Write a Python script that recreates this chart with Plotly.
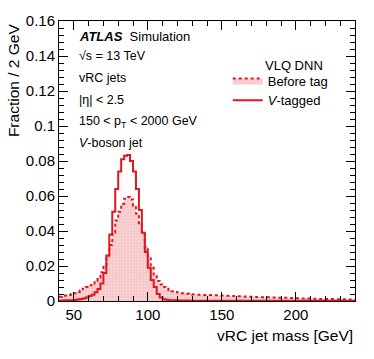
import plotly.graph_objects as go

# bin edges 40..240 GeV, 2 GeV wide
bin_lo = 40
bin_w = 2

before_tag = [
    0.0025, 0.0028, 0.0031, 0.0035, 0.0040,
    0.0045, 0.0052, 0.0060, 0.0070, 0.0080,
    0.0090, 0.0100, 0.0115, 0.0135, 0.0165,
    0.0205, 0.0260, 0.0320, 0.0390, 0.0460,
    0.0510, 0.0555, 0.0585, 0.0595, 0.0580,
    0.0545, 0.0500, 0.0445, 0.0380, 0.0310,
    0.0245, 0.0190, 0.0145, 0.0115, 0.0095,
    0.0080, 0.0070, 0.0062, 0.0056, 0.0051,
    0.0048, 0.0045, 0.0043, 0.0041, 0.0039,
    0.0037, 0.0036, 0.0036, 0.0035, 0.0035,
    0.0034, 0.0034, 0.0033, 0.0033, 0.0032,
    0.0031, 0.0030, 0.0030, 0.0029, 0.0028,
    0.0027, 0.0027, 0.0026, 0.0025, 0.0024,
    0.0024, 0.0023, 0.0023, 0.0022, 0.0022,
    0.0021, 0.0021, 0.0020, 0.0020, 0.0019,
    0.0019, 0.0018, 0.0018, 0.0017, 0.0017,
    0.0016, 0.0016, 0.0015, 0.0015, 0.0014,
    0.0013, 0.0013, 0.0012, 0.0012, 0.0012,
    0.0011, 0.0011, 0.0011, 0.0010, 0.0010,
    0.0010, 0.0010, 0.0009, 0.0009, 0.0009,
]

v_tagged = [
    0.0003, 0.0003, 0.0004, 0.0004, 0.0005,
    0.0006, 0.0008, 0.0011, 0.0015, 0.0020,
    0.0028, 0.0036, 0.0050, 0.0068, 0.0100,
    0.0160, 0.0260, 0.0380, 0.0510, 0.0640,
    0.0740, 0.0810, 0.0830, 0.0835, 0.0800,
    0.0740, 0.0640, 0.0520, 0.0390, 0.0280,
    0.0190, 0.0120, 0.0080, 0.0040, 0.0020,
    0.0010, 0.0007, 0.0005, 0.0004, 0.0004,
    0.0003, 0.0003, 0.0003, 0.0003, 0.0002,
    0.0002, 0.0002, 0.0002, 0.0002, 0.0002,
    0.0002, 0.0002, 0.0002, 0.0002, 0.0002,
    0.0002, 0.0002, 0.0002, 0.0002, 0.0002,
    0.0001, 0.0001, 0.0001, 0.0001, 0.0001,
    0.0001, 0.0001, 0.0001, 0.0001, 0.0001,
    0.0001, 0.0001, 0.0001, 0.0001, 0.0001,
    0.0001, 0.0001, 0.0001, 0.0001, 0.0001,
    0.0001, 0.0001, 0.0001, 0.0001, 0.0001,
    0.0001, 0.0001, 0.0001, 0.0001, 0.0001,
    0.0001, 0.0001, 0.0001, 0.0001, 0.0001,
    0.0001, 0.0001, 0.0001, 0.0001, 0.0001,
]

label_lines = [
    "√s = 13 TeV",
    "vRC jets",
    "|η| &lt; 2.5",
    "150 &lt; p<sub>T</sub> &lt; 2000 GeV",
    "<i>V</i>-boson jet",
]

RED = "rgb(222,24,30)"
FONT = "Liberation Sans, Arial, sans-serif"

edges = [bin_lo + bin_w * i for i in range(len(before_tag) + 1)]


def step_y(vals):
    # repeat last value so the 'hv' step closes at the last edge
    return vals + [vals[-1]]


fig = go.Figure()
fig.add_trace(go.Scatter(
    x=edges, y=step_y(before_tag), mode="lines", line_shape="hv",
    line=dict(color=RED, width=2, dash="dot"),
    fill="tozeroy", fillcolor="rgba(240,150,155,0.55)",
    fillpattern=dict(shape=".", fgcolor="rgba(255,255,255,0.7)", bgcolor="rgba(240,150,155,0.55)",
                     size=3, solidity=0.3),
    name="Before tag"))
fig.add_trace(go.Scatter(
    x=edges, y=step_y(v_tagged), mode="lines", line_shape="hv",
    line=dict(color=RED, width=2),
    name="<i>V</i>-tagged"))

axis_style = dict(showline=True, linecolor="black", linewidth=1, mirror="ticks",
                  ticks="inside", ticklen=9, tickcolor="black", tickwidth=1,
                  showgrid=False, zeroline=False,
                  tickfont=dict(family=FONT, size=15, color="black"))

fig.update_xaxes(range=[40, 240], dtick=50, tick0=0,
                 minor=dict(ticks="inside", ticklen=5, dtick=10, tick0=0, tickcolor="black"),
                 **axis_style)
fig.update_yaxes(range=[0, 0.16], dtick=0.02,
                 minor=dict(ticks="inside", ticklen=5, dtick=0.004, tickcolor="black"),
                 **axis_style)

# ATLAS label block
fig.add_annotation(x=0.06, y=0.945, xref="paper", yref="paper", xanchor="left", yanchor="middle",
                   text="<b><i>ATLAS</i></b>  Simulation", showarrow=False,
                   font=dict(family=FONT, size=13, color="black"))
for i, line in enumerate(label_lines):
    fig.add_annotation(x=0.06, y=0.875 - i * 0.078, xref="paper", yref="paper",
                       xanchor="left", yanchor="middle", text=line, showarrow=False,
                       font=dict(family=FONT, size=12.5, color="black"))

fig.add_annotation(x=0.897, y=0.84, xref="paper", yref="paper", xanchor="right", yanchor="middle",
                   text="VLQ DNN", showarrow=False,
                   font=dict(family=FONT, size=13, color="black"))

# axis titles, ROOT style (right / top aligned)
fig.add_annotation(x=1.0, y=-0.124, xref="paper", yref="paper", xanchor="right", yanchor="middle",
                   text="vRC jet mass [GeV]", showarrow=False,
                   font=dict(family=FONT, size=15.5, color="black"))
fig.add_annotation(x=-0.155, y=1.0, xref="paper", yref="paper", xanchor="center", yanchor="top",
                   text="Fraction / 2 GeV", showarrow=False, textangle=-90,
                   font=dict(family=FONT, size=15.5, color="black"))

fig.update_layout(
    width=374, height=359,
    margin=dict(l=59, r=19, t=18, b=58),
    plot_bgcolor="white", paper_bgcolor="white",
    font=dict(family=FONT, color="black"),
    legend=dict(x=0.57, y=0.841, xanchor="left", yanchor="top",
                bgcolor="rgba(0,0,0,0)", font=dict(family=FONT, size=13),
                itemwidth=30, tracegroupgap=0),
)

# page body has a default margin; drop it so the figure sits at the window origin
fig.write_html("out.html", config={"displayModeBar": False},
               post_script="document.body.style.margin='0';")
